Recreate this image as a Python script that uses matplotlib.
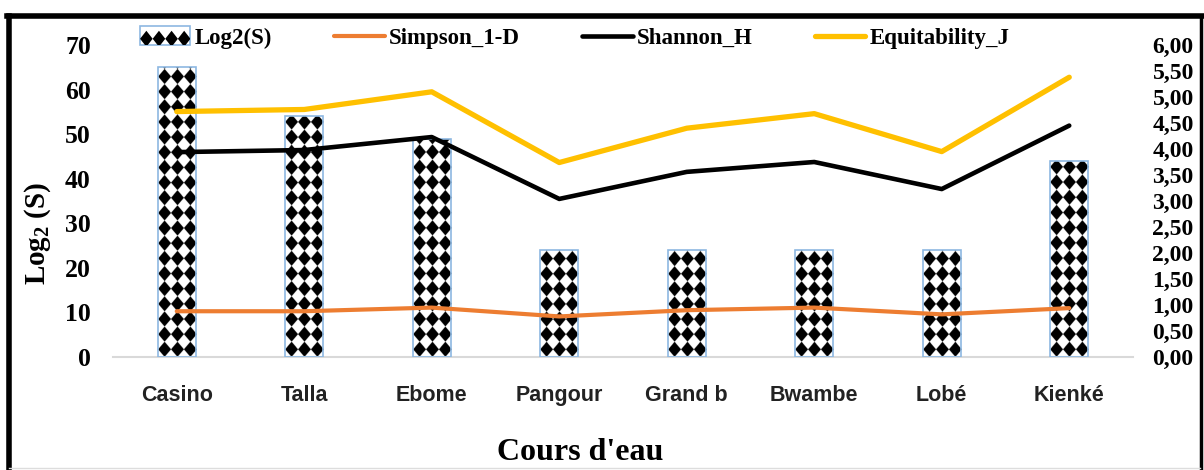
import matplotlib
matplotlib.use('Agg')
import numpy as np
import matplotlib.pyplot as plt
from matplotlib.patches import Rectangle, Polygon
from matplotlib.lines import Line2D
from matplotlib.legend_handler import HandlerPatch
from matplotlib.ticker import FuncFormatter, MultipleLocator

# data
sites = ['Casino', 'Talla', 'Ebome', 'Pangour', 'Grand b', 'Bwambe', 'Lobé', 'Kienké']
log2_s = [65, 54, 49, 24, 24, 24, 24, 44]
simpson = [0.88, 0.88, 0.95, 0.78, 0.90, 0.95, 0.82, 0.94]
shannon = [3.94, 3.98, 4.23, 3.04, 3.56, 3.75, 3.23, 4.45]
equit = [4.72, 4.76, 5.10, 3.74, 4.40, 4.68, 3.95, 5.38]

SERIF = 'Liberation Serif'
SANS = 'Liberation Sans'

plt.rcParams['mathtext.fontset'] = 'custom'
plt.rcParams['mathtext.rm'] = 'Liberation Serif:bold'
plt.rcParams['mathtext.it'] = 'Liberation Serif:bold'

EDGE = '#8db8e2'
ORANGE = '#ed7d31'
GOLD = '#ffc000'
DX, DY = 0.1, 3.4   # diamond pitch (x in categories, y in left-axis units)

W, H = 1204, 470
fig = plt.figure(figsize=(W / 100, H / 100), dpi=100)
fig.patch.set_facecolor('white')
ax = fig.add_axes([113 / W, 1 - 357 / H, 1020 / W, 312 / H])
ax2 = ax.twinx()

x = np.arange(len(sites))
bars = ax.bar(x, log2_s, width=0.3, facecolor='none', edgecolor=EDGE, lw=1.2, zorder=3)

# checkered diamond fill, clipped to each bar
for b in bars:
    x0, w, h = b.get_x(), b.get_width(), b.get_height()
    xc = x0 + w / 2
    xs = np.linspace(x0, x0 + w, 120)
    ys = np.linspace(0, h, max(int(h / DY * 60), 2))
    XX, YY = np.meshgrid(xs, ys)
    u = ((XX - xc) / DX + 0.5) % 1 - 0.5
    v = (YY / DY) % 1 - 0.5
    img = np.where(np.abs(u) + np.abs(v) < 0.5, 0.0, 1.0)
    im = ax.imshow(img, extent=[x0, x0 + w, 0, h], origin='lower', cmap='gray',
                   vmin=0, vmax=1, aspect='auto', interpolation='antialiased', zorder=2)
    im.set_clip_path(b)

ax.set_xlim(-0.5, len(sites) - 0.5)
ax.set_ylim(0, 70)
ax.yaxis.set_major_locator(MultipleLocator(10))

l1, = ax2.plot(x, simpson, color=ORANGE, lw=3.0, solid_capstyle='round', label='Simpson_1-D')
l2, = ax2.plot(x, shannon, color='black', lw=3.3, solid_capstyle='round', label='Shannon_H')
l3, = ax2.plot(x, equit, color=GOLD, lw=3.8, solid_capstyle='round', label='Equitability_J')
ax2.set_ylim(0, 6)
ax2.yaxis.set_major_locator(MultipleLocator(0.5))
ax2.yaxis.set_major_formatter(FuncFormatter(lambda v, p: f'{v:.2f}'.replace('.', ',')))

for a in (ax, ax2):
    for s in a.spines.values():
        s.set_visible(False)
    a.tick_params(length=0)
ax.spines['bottom'].set_visible(True)
ax.spines['bottom'].set_color('#d9d9d9')
ax.spines['bottom'].set_linewidth(1.5)

ax.set_xticks(x)
ax.set_xticklabels(sites, fontfamily=SANS, fontweight='bold', fontsize=15.5, color='#222222')
ax.tick_params(axis='x', pad=20)
ax.tick_params(axis='y', pad=16)
ax2.tick_params(axis='y', pad=14)
for t in ax.get_yticklabels():
    t.set_fontfamily(SERIF); t.set_fontweight('bold'); t.set_fontsize(18.5)
for t in ax2.get_yticklabels():
    t.set_fontfamily(SERIF); t.set_fontweight('bold'); t.set_fontsize(17)

fig.text(38 / W, 1 - 233 / H, 'Log$_2$ (S)', rotation=90, ha='center', va='center',
         fontfamily=SERIF, fontweight='bold', fontsize=21)
fig.text(580 / W, 1 - 452 / H, "Cours d'eau", ha='center', va='center',
         fontfamily=SERIF, fontweight='bold', fontsize=23)


class DiamondHandler(HandlerPatch):
    def create_artists(self, legend, orig_handle, xdescent, ydescent,
                       width, height, fontsize, trans):
        x0, y0 = -xdescent, -ydescent
        rect = Rectangle((x0, y0 - 1), width, height + 2, facecolor='white',
                         edgecolor=EDGE, lw=1.2, transform=trans)
        arts = [rect]
        n = 4
        dw = width / n
        for k in range(n):
            cx = x0 + dw * (k + 0.5)
            cy = y0 + height * 0.3
            hh = height * 0.5
            d = Polygon([(cx - dw / 2, cy), (cx, cy + hh), (cx + dw / 2, cy), (cx, cy - hh)],
                        closed=True, facecolor='black', edgecolor='none', transform=trans)
            d.set_clip_path(rect)
            arts.append(d)
        return arts


bar_handle = Rectangle((0, 0), 1, 1, label='Log2(S)')
leg = fig.legend([bar_handle, l1, l2, l3], ['Log2(S)', 'Simpson_1-D', 'Shannon_H', 'Equitability_J'],
                 handler_map={Rectangle: DiamondHandler()},
                 loc='center', bbox_to_anchor=(575 / W, 1 - 38 / H), ncol=4, frameon=False,
                 prop={'family': SERIF, 'weight': 'bold', 'size': 16.5},
                 handlelength=2.2, handletextpad=0.2, columnspacing=2.7)

# outer frame
fig.add_artist(Line2D([9 / W, 9 / W], [0, 1 - 15.5 / H], transform=fig.transFigure,
                      color='black', lw=4))
fig.add_artist(Line2D([7 / W, 1202 / W], [1 - 15.5 / H, 1 - 15.5 / H], transform=fig.transFigure,
                      color='black', lw=4))
fig.add_artist(Line2D([1200.5 / W, 1200.5 / W], [0, 1 - 15.5 / H], transform=fig.transFigure,
                      color='black', lw=2.5))
fig.add_artist(Line2D([9 / W, 1200 / W], [2 / H, 2 / H], transform=fig.transFigure,
                      color='#dddddd', lw=1))

fig.savefig('out.png', dpi=100, facecolor='white')
